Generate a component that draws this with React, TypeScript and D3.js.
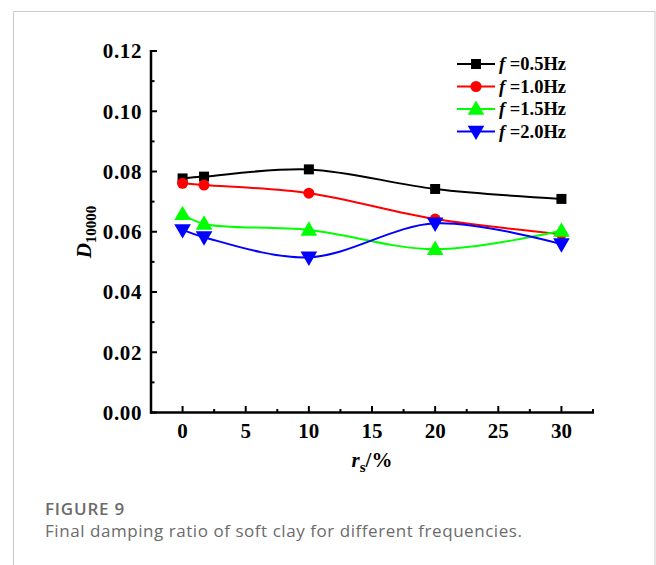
import React from "react";
import * as d3 from "d3";

const rs = [0, 1.7, 10, 20, 30];
const seriesNames = ["0.5Hz", "1.0Hz", "1.5Hz", "2.0Hz"];
const f05 = [0.0777, 0.0783, 0.0807, 0.0742, 0.0709];
const f10 = [0.0761, 0.0755, 0.0728, 0.0642, 0.0592];
const f15 = [0.0658, 0.0626, 0.0606, 0.0542, 0.0603];
const f20 = [0.0606, 0.0582, 0.0515, 0.0628, 0.0559];
const xTicks = [0, 5, 10, 15, 20, 25, 30];
const yTicks = [0, 0.02, 0.04, 0.06, 0.08, 0.1, 0.12];

const colors = ["#000000", "#ff0000", "#00ff00", "#0000ff"];
const symbols = [d3.symbolSquare, d3.symbolCircle, d3.symbolTriangle, d3.symbolTriangle];
const serif = "'Liberation Serif', 'Times New Roman', serif";

export default function App() {
  const x = d3.scaleLinear().domain([-2.5, 32.5]).range([151, 593]);
  const y = d3.scaleLinear().domain([0, 0.12]).range([412.5, 51]);
  const data = [f05, f10, f15, f20];

  const line = d3
    .line<[number, number]>()
    .x((d) => x(d[0]))
    .y((d) => y(d[1]))
    .curve(d3.curveCatmullRom);

  const marker = (i: number, cx: number, cy: number, key: string) => {
    const sizes = [100, 95, 120, 120];
    const p = d3.symbol().type(symbols[i]).size(sizes[i])();
    const rot = i === 3 ? 180 : 0;
    const dy = i === 2 ? 1 : i === 3 ? -1 : 0;
    return (
      <path
        key={key}
        d={p || ""}
        fill={colors[i]}
        transform={`translate(${cx},${cy + dy}) rotate(${rot})`}
      />
    );
  };

  const xMinor = d3.range(-2.5, 33, 2.5).filter((v) => v % 5 !== 0);
  const yMinor = d3.range(0.01, 0.12, 0.02);

  return (
    <svg
      width={656}
      height={565}
      style={{ position: "absolute", left: 0, top: 0, background: "#fff" }}
    >
      <path d="M13.5,565 V11.5 H655 V565" fill="none" stroke="#cccccc" strokeWidth={1} />

      {/* series */}
      {data.map((vals, i) => (
        <g key={seriesNames[i]}>
          <path
            d={line(rs.map((r, j) => [r, vals[j]] as [number, number])) || ""}
            fill="none"
            stroke={colors[i]}
            strokeWidth={2}
          />
          {rs.map((r, j) => marker(i, x(r), y(vals[j]), `${i}-${j}`))}
        </g>
      ))}

      {/* axes */}
      <line x1={151} x2={151} y1={50} y2={413.5} stroke="#000" strokeWidth={2.5} />
      <line x1={150} x2={594} y1={412.5} y2={412.5} stroke="#000" strokeWidth={2.5} />
      {yTicks.map((t) => (
        <g key={`y${t}`}>
          <line x1={151} x2={157} y1={y(t)} y2={y(t)} stroke="#000" strokeWidth={2} />
          <text
            x={142}
            y={y(t)}
            dy="0.35em"
            textAnchor="end"
            fontFamily={serif}
            fontWeight="bold"
            fontSize={21}
            letterSpacing={0.6}
          >
            {t.toFixed(2)}
          </text>
        </g>
      ))}
      {yMinor.map((t) => (
        <line key={`ym${t}`} x1={151} x2={154.5} y1={y(t)} y2={y(t)} stroke="#000" strokeWidth={2} />
      ))}
      {xTicks.map((t) => (
        <g key={`x${t}`}>
          <line x1={x(t)} x2={x(t)} y1={412.5} y2={406} stroke="#000" strokeWidth={2} />
          <text
            x={x(t)}
            y={438}
            textAnchor="middle"
            fontFamily={serif}
            fontWeight="bold"
            fontSize={21}
          >
            {t}
          </text>
        </g>
      ))}
      {xMinor.map((t) => (
        <line key={`xm${t}`} x1={x(t)} x2={x(t)} y1={412.5} y2={409} stroke="#000" strokeWidth={2} />
      ))}

      {/* axis titles */}
      <text x={372} y={467} textAnchor="middle" fontFamily={serif} fontWeight="bold" fontSize={21}>
        <tspan fontStyle="italic">r</tspan>
        <tspan fontSize={15} dy={5}>s</tspan>
        <tspan dy={-5}>/%</tspan>
      </text>
      <text
        transform="translate(91,232) rotate(-90)"
        textAnchor="middle"
        fontFamily={serif}
        fontWeight="bold"
        fontSize={21}
      >
        <tspan fontStyle="italic">D</tspan>
        <tspan fontSize={15} dy={5}>10000</tspan>
      </text>

      {/* legend */}
      {seriesNames.map((n, i) => {
        const ly = 64 + i * 22.5;
        return (
          <g key={`lg${n}`}>
            <line x1={457} x2={495} y1={ly} y2={ly} stroke={colors[i]} strokeWidth={2} />
            {marker(i, 476, ly, `lm${i}`)}
            <text x={499} y={ly} dy="0.35em" fontFamily={serif} fontWeight="bold" fontSize={18.5}>
              <tspan fontStyle="italic">f</tspan>
              <tspan>{` =${n}`}</tspan>
            </text>
          </g>
        );
      })}

      {/* caption */}
      <text
        x={45}
        y={515}
        fontFamily="'Open Sans', sans-serif"
        fontWeight="600"
        fontSize={17}
        letterSpacing={0.8}
        fill="#6b6b6b"
      >
        FIGURE 9
      </text>
      <text
        x={45}
        y={537}
        fontFamily="'Open Sans', sans-serif"
        fontSize={17}
        letterSpacing={0.55}
        fill="#6b6b6b"
      >
        Final damping ratio of soft clay for different frequencies.
      </text>
    </svg>
  );
}
